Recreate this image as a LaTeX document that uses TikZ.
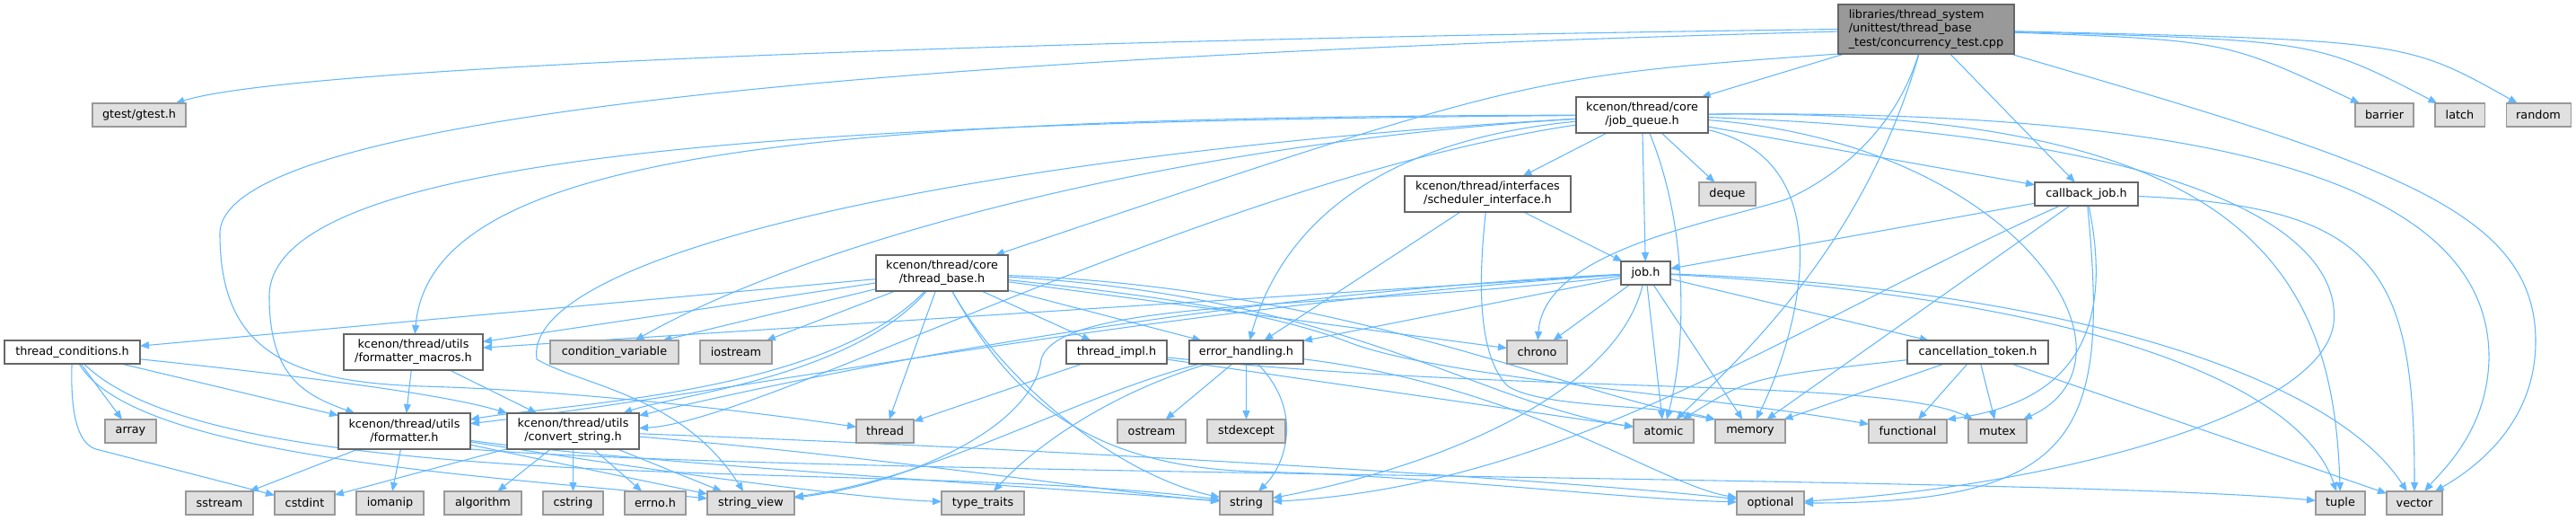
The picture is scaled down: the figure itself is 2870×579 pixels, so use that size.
\documentclass[tikz,border=0pt]{standalone}
\usepackage{fontspec}
\setmainfont{DejaVu Sans}
\usetikzlibrary{arrows.meta}
\definecolor{edgeblue}{HTML}{63B8FF}
\definecolor{extfill}{HTML}{E0E0E0}
\definecolor{extdraw}{HTML}{999999}
\definecolor{docdraw}{HTML}{666666}
\definecolor{rootfill}{HTML}{999999}
\newcommand\dxfont{\fontsize{9.6pt}{11.4pt}\selectfont}
\newcommand\dxnode[7]{%
  \pgfmathsetmacro\dxw{(#5-#3)*0.75}%
  \pgfmathsetmacro\dxh{(#6-#4)*0.75}%
  \pgfmathsetmacro\dxcx{(#3+#5)/2}%
  \pgfmathsetmacro\dxcy{(#4+#6)/2}%
  \node[#1, minimum width=\dxw pt, minimum height=\dxh pt] (#2) at (\dxcx,\dxcy) {#7};%
}
\pgfdeclarelayer{bg}
\pgfsetlayers{bg,main}
\tikzset{
  basebox/.style={line width=0.8pt, inner sep=0pt, outer sep=0pt, font=\dxfont, align=center, text=black},
  docbox/.style={basebox, draw=docdraw, fill=white},
  extbox/.style={basebox, draw=extdraw, fill=extfill},
  rootbox/.style={basebox, draw=docdraw, fill=rootfill, align=left},
  dep/.style={draw=edgeblue, line width=0.8pt, -{Triangle[length=7.5pt,width=6pt]}},
}
\begin{document}
\begin{tikzpicture}[x=0.75pt,y=-0.75pt]
\begin{pgfonlayer}{bg}
\path[fill=white, use as bounding box] (0,0) rectangle (2870,579);
\end{pgfonlayer}
% nodes
\dxnode{rootbox}{R}{2048}{5}{2244}{60}{libraries/thread\_system\\/unittest/thread\_base\\\_test/concurrency\_test.cpp}
\dxnode{extbox}{gtest}{103}{115}{207}{141}{gtest/gtest.h}
\dxnode{docbox}{JQ}{1756}{108}{1903}{148}{kcenon/thread/core\\/job\_queue.h}
\dxnode{extbox}{barrier}{2624}{115}{2689}{141}{barrier}
\dxnode{extbox}{latch}{2713}{115}{2768}{141}{latch}
\dxnode{extbox}{random}{2792}{115}{2864}{141}{random}
\dxnode{docbox}{SI}{1565}{196}{1750}{236}{kcenon/thread/interfaces\\/scheduler\_interface.h}
\dxnode{extbox}{deque}{1893}{203}{1956}{229}{deque}
\dxnode{docbox}{CJ}{2267}{203}{2382}{229}{callback\_job.h}
\dxnode{docbox}{TB}{976}{284}{1123}{324}{kcenon/thread/core\\/thread\_base.h}
\dxnode{docbox}{J}{1806}{291}{1861}{317}{job.h}
\dxnode{docbox}{TC}{5}{379}{156}{405}{thread\_conditions.h}
\dxnode{docbox}{FM}{383}{372}{538}{412}{kcenon/thread/utils\\/formatter\_macros.h}
\dxnode{extbox}{condvar}{613}{379}{756}{405}{condition\_variable}
\dxnode{extbox}{iostream}{780}{379}{860}{405}{iostream}
\dxnode{docbox}{TI}{1188}{379}{1300}{405}{thread\_impl.h}
\dxnode{docbox}{EH}{1325}{379}{1452}{405}{error\_handling.h}
\dxnode{extbox}{chrono}{1679}{379}{1746}{405}{chrono}
\dxnode{docbox}{CT}{2125}{379}{2282}{405}{cancellation\_token.h}
\dxnode{extbox}{array}{117}{467}{174}{493}{array}
\dxnode{docbox}{F}{377}{460}{524}{500}{kcenon/thread/utils\\/formatter.h}
\dxnode{docbox}{CS}{565}{460}{712}{500}{kcenon/thread/utils\\/convert\_string.h}
\dxnode{extbox}{thread}{954}{467}{1018}{493}{thread}
\dxnode{extbox}{ostream}{1245}{467}{1321}{493}{ostream}
\dxnode{extbox}{stdexcept}{1345}{467}{1432}{493}{stdexcept}
\dxnode{extbox}{atomic}{1820}{467}{1887}{493}{atomic}
\dxnode{extbox}{memory}{1911}{467}{1989}{493}{memory}
\dxnode{extbox}{functional}{2082}{467}{2169}{493}{functional}
\dxnode{extbox}{mutex}{2193}{467}{2258}{493}{mutex}
\dxnode{extbox}{sstream}{207}{547}{282}{573}{sstream}
\dxnode{extbox}{cstdint}{306}{547}{373}{573}{cstdint}
\dxnode{extbox}{iomanip}{397}{547}{472}{573}{iomanip}
\dxnode{extbox}{algorithm}{495}{547}{581}{573}{algorithm}
\dxnode{extbox}{cstring}{605}{547}{672}{573}{cstring}
\dxnode{extbox}{errno}{696}{547}{764}{573}{errno.h}
\dxnode{extbox}{stringview}{788}{547}{885}{573}{string\_view}
\dxnode{extbox}{typetraits}{1049}{547}{1141}{573}{type\_traits}
\dxnode{extbox}{string}{1359}{547}{1418}{573}{string}
\dxnode{extbox}{optional}{1935}{547}{2010}{573}{optional}
\dxnode{extbox}{tuple}{2580}{547}{2635}{573}{tuple}
\dxnode{extbox}{vector}{2659}{547}{2721}{573}{vector}
\begin{pgfonlayer}{bg}
% root
\draw[dep] (R.west) .. controls (1100,45) and (320,75) .. (gtest);
\draw[dep] (R) .. controls (1100,60) and (245,120) .. (245,260) .. controls (245,390) and (320,425) .. (470,430) .. controls (650,435) and (850,460) .. (thread);
\draw[dep] (R) -- (JQ);
\draw[dep] (R.south west) .. controls (1700,85) .. (TB);
\draw[dep] (R) -- (CJ);
\draw[dep] (R) .. controls (2480,45) .. (barrier);
\draw[dep] (R) .. controls (2580,45) .. (latch);
\draw[dep] (R) .. controls (2680,45) .. (random);
\draw[dep] (R) .. controls (2110,150) and (2040,200) .. (1990,222) .. controls (1900,250) and (1720,280) .. (chrono);
\draw[dep] (R) .. controls (2080,260) and (1960,380) .. (atomic);
\draw[dep] (R) .. controls (2650,180) and (2825,230) .. (2825,380) .. controls (2825,470) and (2760,520) .. (vector);
% job_queue
\draw[dep] (JQ) -- (SI);
\draw[dep] (JQ) -- (J);
\draw[dep] (JQ) -- (deque);
\draw[dep] (JQ) -- (CJ);
\draw[dep] (JQ) .. controls (1500,160) and (1420,280) .. (EH);
\draw[dep] (JQ) .. controls (900,130) and (480,170) .. (FM);
\draw[dep] (JQ) .. controls (900,135) and (300,170) .. (300,330) .. controls (300,420) and (340,440) .. (F);
\draw[dep] (JQ) .. controls (1350,200) and (850,470) .. (CS);
\draw[dep] (JQ) .. controls (1100,170) and (580,280) .. (598,400) .. controls (650,430) and (760,440) .. (stringview);
\draw[dep] (JQ) .. controls (1300,160) and (900,270) .. (condvar);
\draw[dep] (JQ) .. controls (1880,250) and (1880,380) .. (atomic);
\draw[dep] (JQ) .. controls (2060,180) and (2000,380) .. (memory);
\draw[dep] (JQ) .. controls (2250,160) and (2400,400) .. (mutex);
\draw[dep] (JQ) .. controls (2450,150) and (2610,260) .. (2600,360) .. controls (2585,470) and (2250,545) .. (optional);
\draw[dep] (JQ) .. controls (2500,120) and (2600,300) .. (tuple);
\draw[dep] (JQ) .. controls (2550,120) and (2775,230) .. (2773,400) .. controls (2771,480) and (2720,525) .. (vector);
% scheduler_interface
\draw[dep] (SI) -- (J);
\draw[dep] (SI) -- (EH);
\draw[dep] (SI) .. controls (1645,330) and (1650,400) .. (1680,430) .. controls (1720,455) and (1850,450) .. (memory.north west);
% callback_job
\draw[dep] (CJ) -- (J);
\draw[dep] (CJ) -- (memory);
\draw[dep] (CJ) .. controls (2360,390) and (2290,450) .. (functional.north east);
\draw[dep] (CJ) .. controls (2350,480) and (2320,560) .. (optional);
\draw[dep] (CJ) .. controls (2000,360) and (1750,540) .. (string);
\draw[dep] (CJ) .. controls (2650,230) and (2690,300) .. (vector);
% thread_base
\draw[dep] (TB) -- (TC);
\draw[dep] (TB) -- (FM);
\draw[dep] (TB) .. controls (920,440) and (620,450) .. (F);
\draw[dep] (TB) .. controls (950,420) and (750,440) .. (CS);
\draw[dep] (TB) -- (condvar);
\draw[dep] (TB) -- (iostream);
\draw[dep] (TB) -- (thread);
\draw[dep] (TB) -- (TI);
\draw[dep] (TB) -- (EH);
\draw[dep] (TB) -- (chrono);
\draw[dep] (TB) .. controls (1500,330) and (1650,450) .. (atomic);
\draw[dep] (TB) .. controls (1500,320) and (1750,440) .. (memory.north west);
\draw[dep] (TB) .. controls (1300,330) and (1420,350) .. (1500,380) .. controls (1600,420) and (1900,440) .. (functional);
\draw[dep] (TB) .. controls (1120,430) and (1250,530) .. (string);
\draw[dep] (TB) .. controls (1120,430) and (1200,520) .. (1400,525) .. controls (1600,530) and (1800,555) .. (optional);
% job
\draw[dep] (J) -- (CT);
\draw[dep] (J) -- (EH);
\draw[dep] (J) -- (chrono);
\draw[dep] (J) -- (atomic);
\draw[dep] (J) -- (memory);
\draw[dep] (J) .. controls (1800,440) and (1600,520) .. (string);
\draw[dep] (J) -- (FM);
\draw[dep] (J) .. controls (1300,340) and (800,440) .. (F);
\draw[dep] (J) .. controls (1300,330) and (850,430) .. (CS);
\draw[dep] (J) .. controls (1500,345) and (1180,330) .. (1160,400) .. controls (1150,480) and (1000,540) .. (stringview);
\draw[dep] (J) .. controls (2300,330) and (2560,420) .. (tuple);
\draw[dep] (J) .. controls (2300,320) and (2600,420) .. (vector);
% thread_conditions
\draw[dep] (TC) -- (array);
\draw[dep] (TC) .. controls (78,470) and (90,495) .. (107,500) -- (cstdint);
\draw[dep] (TC) -- (F);
\draw[dep] (TC) .. controls (350,420) and (500,440) .. (CS.north west);
\draw[dep] (TC) .. controls (150,510) and (550,530) .. (stringview);
\draw[dep] (TC) .. controls (250,560) and (1000,510) .. (string);
% formatter_macros
\draw[dep] (FM) -- (F);
\draw[dep] (FM) -- (CS);
% formatter
\draw[dep] (F) -- (sstream);
\draw[dep] (F) -- (iomanip);
\draw[dep] (F) -- (stringview);
\draw[dep] (F) .. controls (700,515) and (1200,545) .. (string);
\draw[dep] (F) .. controls (700,520) and (950,555) .. (typetraits);
\draw[dep] (F.south east) .. controls (900,530) and (2300,530) .. (tuple);
% convert_string
\draw[dep] (CS) -- (cstdint);
\draw[dep] (CS) -- (algorithm);
\draw[dep] (CS) -- (cstring);
\draw[dep] (CS) -- (errno);
\draw[dep] (CS) -- (stringview);
\draw[dep] (CS) .. controls (1000,510) and (1250,550) .. (string);
\draw[dep] (CS) .. controls (1300,505) and (1800,540) .. (optional);
% error_handling
\draw[dep] (EH) -- (ostream);
\draw[dep] (EH) -- (stdexcept);
\draw[dep] (EH) .. controls (1455,460) and (1430,520) .. (string);
\draw[dep] (EH) .. controls (1230,440) and (1150,500) .. (typetraits);
\draw[dep] (EH) .. controls (1200,440) and (1050,530) .. (stringview);
\draw[dep] (EH) .. controls (1700,430) and (1850,540) .. (optional);
% thread_impl
\draw[dep] (TI) -- (thread);
\draw[dep] (TI) -- (atomic);
\draw[dep] (TI) .. controls (1700,440) and (2100,420) .. (mutex);
% cancellation_token
\draw[dep] (CT) .. controls (1950,420) .. (atomic);
\draw[dep] (CT) -- (memory);
\draw[dep] (CT) -- (functional);
\draw[dep] (CT) -- (mutex);
\draw[dep] (CT) -- (vector);
\end{pgfonlayer}
\end{tikzpicture}
\end{document}
